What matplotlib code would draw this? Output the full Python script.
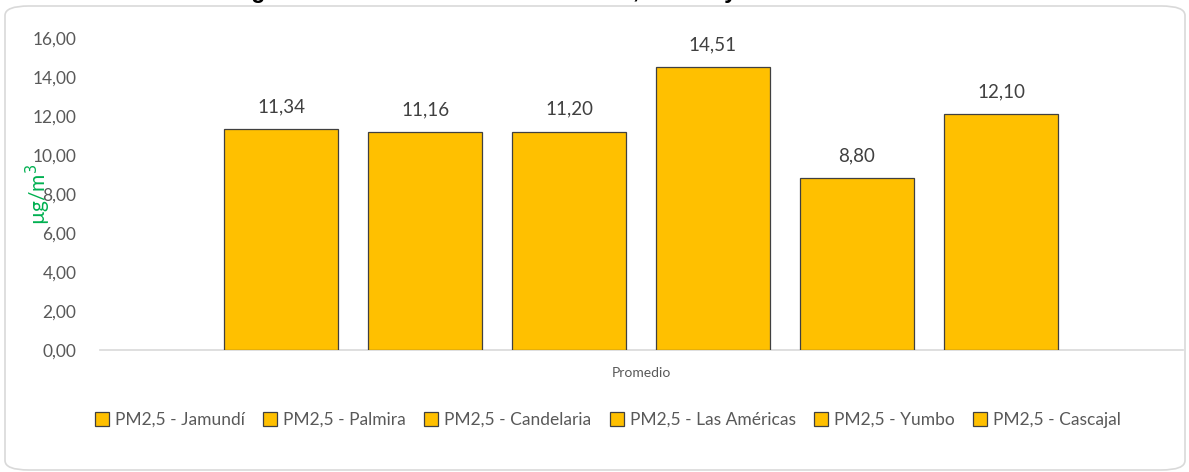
import matplotlib
matplotlib.use("Agg")
import matplotlib.pyplot as plt
from matplotlib.patches import FancyBboxPatch
from matplotlib.ticker import FuncFormatter

# datos (promedio PM2,5 por estación, µg/m3)
estaciones = ["PM2,5 - Jamundí", "PM2,5 - Palmira", "PM2,5 - Candelaria",
              "PM2,5 - Las Américas", "PM2,5 - Yumbo", "PM2,5 - Cascajal"]
valores = [11.34, 11.16, 11.20, 14.51, 8.80, 12.10]
categoria = "Promedio"
y_ticks = [0, 2, 4, 6, 8, 10, 12, 14, 16]

AMARILLO = "#FFC000"
BORDE = "#404040"
GRIS_TXT = "#595959"

plt.rcParams["font.family"] = ["Lato", "DejaVu Sans"]

fig = plt.figure(figsize=(11.89, 4.72), dpi=100)

# marco redondeado del gráfico
marco = FancyBboxPatch((5 / 1189, 2 / 472), 1180 / 1189, 464 / 472,
                       boxstyle="round,pad=0,rounding_size=0.02",
                       transform=fig.transFigure, facecolor="none",
                       edgecolor="#d9d9d9", linewidth=1.2, zorder=-1)
fig.patches.append(marco)

# título (recortado en la imagen original)
fig.text(536 / 1189, 1 + 2 / 472, "Figura 5. Concentración total de PM2,5 en mayo de 2019",
         ha="center", va="baseline", fontsize=16.5, fontweight="bold",
         family=["Liberation Sans", "DejaVu Sans"], color="black")

ax = fig.add_axes([100 / 1189, 122 / 472, 1083 / 1189, 312 / 472])
ax.set_facecolor("none")

ancho = 114 / 144
pos = list(range(len(valores)))
barras = []
for i, (nombre, v) in enumerate(zip(estaciones, valores)):
    b = ax.bar(pos[i], v, width=ancho, color=AMARILLO, edgecolor=BORDE,
               linewidth=0.9, label=nombre, zorder=3)
    barras.append(b)
    ax.annotate(f"{v:.2f}".replace(".", ","), (pos[i], v),
                xytext=(0, 10), textcoords="offset points",
                ha="center", va="bottom", fontsize=13.5, color=BORDE)

ax.set_xlim(-1.257, 6.264)
ax.set_ylim(0, 16)
ax.set_yticks(y_ticks)
ax.yaxis.set_major_formatter(FuncFormatter(lambda v, _: f"{v:.2f}".replace(".", ",")))
ax.tick_params(axis="y", length=0, pad=17, labelsize=12.5, labelcolor=GRIS_TXT)
ax.set_xticks([2.5])
ax.set_xticklabels([categoria])
ax.tick_params(axis="x", length=0, pad=12, labelsize=10, labelcolor=GRIS_TXT)

for lado in ["top", "right", "left"]:
    ax.spines[lado].set_visible(False)
ax.spines["bottom"].set_color("#d9d9d9")
ax.spines["bottom"].set_linewidth(1.2)

# unidad en verde, encima de las etiquetas del eje (como en el original)
ax.set_ylabel("µg/m$^3$", color="#00B050", fontsize=15, labelpad=-15)

leg = fig.legend(handles=[b[0] for b in barras], labels=estaciones,
                 loc="center", bbox_to_anchor=(608 / 1189, 1 - 420 / 472),
                 ncol=6, frameon=False, fontsize=12.5, handlelength=0.8,
                 handleheight=0.8, handletextpad=0.35, columnspacing=1.05)
for t in leg.get_texts():
    t.set_color(GRIS_TXT)

fig.savefig("out.png", dpi=100)
